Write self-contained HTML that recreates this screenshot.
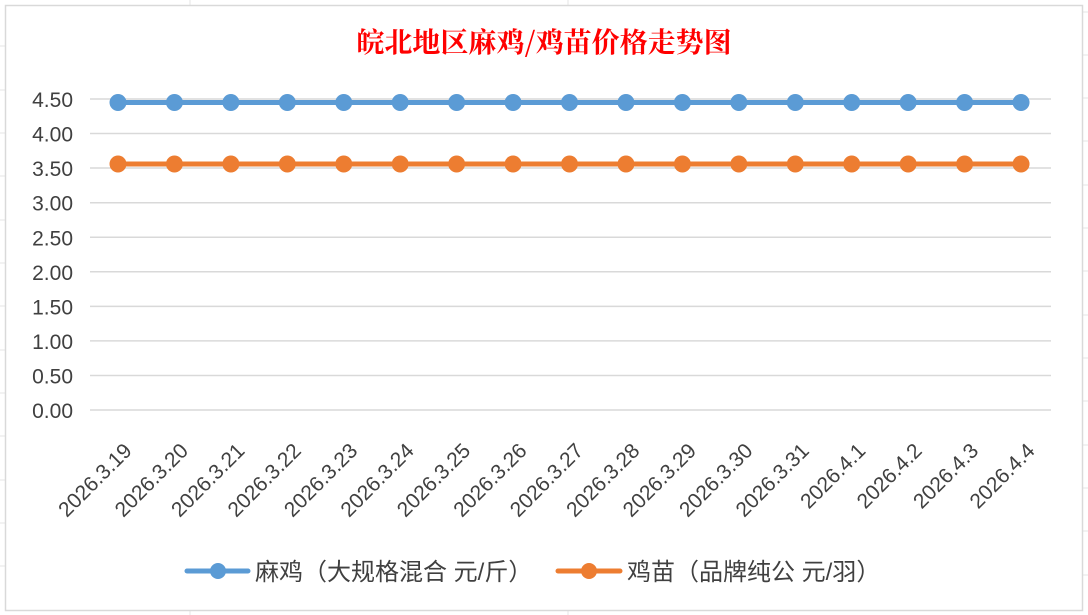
<!DOCTYPE html>
<html><head><meta charset="utf-8"><style>
html,body{margin:0;padding:0;background:#fff;}
svg{display:block;font-family:"Liberation Sans","Noto Sans CJK SC",sans-serif;}
</style></head><body>
<svg width="1088" height="615" viewBox="0 0 1088 615" xmlns="http://www.w3.org/2000/svg">
<rect x="0" y="0" width="1088" height="615" fill="#fff"/>
<g stroke="#e6e6e6" stroke-width="1">
<line x1="0" y1="46" x2="5" y2="46"/><line x1="0" y1="90" x2="5" y2="90"/><line x1="0" y1="133" x2="5" y2="133"/><line x1="0" y1="176" x2="5" y2="176"/><line x1="0" y1="220" x2="5" y2="220"/><line x1="0" y1="263" x2="5" y2="263"/><line x1="0" y1="306" x2="5" y2="306"/><line x1="0" y1="350" x2="5" y2="350"/><line x1="0" y1="393" x2="5" y2="393"/><line x1="0" y1="436" x2="5" y2="436"/><line x1="0" y1="480" x2="5" y2="480"/><line x1="0" y1="523" x2="5" y2="523"/><line x1="0" y1="566" x2="5" y2="566"/>
<line x1="1083" y1="12" x2="1088" y2="12"/><line x1="1083" y1="55" x2="1088" y2="55"/><line x1="1083" y1="98" x2="1088" y2="98"/><line x1="1083" y1="141" x2="1088" y2="141"/><line x1="1083" y1="185" x2="1088" y2="185"/><line x1="1083" y1="228" x2="1088" y2="228"/><line x1="1083" y1="271" x2="1088" y2="271"/><line x1="1083" y1="315" x2="1088" y2="315"/><line x1="1083" y1="358" x2="1088" y2="358"/><line x1="1083" y1="401" x2="1088" y2="401"/><line x1="1083" y1="445" x2="1088" y2="445"/><line x1="1083" y1="488" x2="1088" y2="488"/><line x1="1083" y1="531" x2="1088" y2="531"/><line x1="1083" y1="575" x2="1088" y2="575"/>
<line x1="190" y1="0" x2="190" y2="5"/><line x1="568" y1="0" x2="568" y2="5"/><line x1="190" y1="611" x2="190" y2="615"/><line x1="568" y1="611" x2="568" y2="615"/>
</g>
<rect x="5.5" y="5.5" width="1077" height="605" fill="#fff" stroke="#d9d9d9" stroke-width="1.5"/>
<text x="544" y="52" text-anchor="middle" fill="#ff0000" font-size="28" font-family="'Noto Serif CJK SC','Noto Sans CJK SC',serif" font-weight="bold">皖北地区麻鸡/鸡苗价格走势图</text>
<g stroke="#d9d9d9" stroke-width="1.5">
<line x1="90" y1="99" x2="1051" y2="99"/><line x1="90" y1="133.5" x2="1051" y2="133.5"/><line x1="90" y1="168" x2="1051" y2="168"/><line x1="90" y1="202.7" x2="1051" y2="202.7"/><line x1="90" y1="237.3" x2="1051" y2="237.3"/><line x1="90" y1="271.8" x2="1051" y2="271.8"/><line x1="90" y1="306.4" x2="1051" y2="306.4"/><line x1="90" y1="340.9" x2="1051" y2="340.9"/><line x1="90" y1="375.5" x2="1051" y2="375.5"/><line x1="90" y1="410" x2="1051" y2="410"/>
</g>
<g fill="#404040" font-size="21" text-anchor="end">
<text x="73" y="107">4.50</text><text x="73" y="141.5">4.00</text><text x="73" y="176">3.50</text><text x="73" y="210.7">3.00</text><text x="73" y="245.3">2.50</text><text x="73" y="279.8">2.00</text><text x="73" y="314.4">1.50</text><text x="73" y="348.9">1.00</text><text x="73" y="383.5">0.50</text><text x="73" y="418">0.00</text>
</g>
<line x1="118" y1="102.5" x2="1021" y2="102.5" stroke="#5b9bd5" stroke-width="5"/>
<line x1="118" y1="164" x2="1021" y2="164" stroke="#ed7d31" stroke-width="5"/>
<g id="pts"></g>
<g fill="#404040" font-size="21" id="xl"></g>
<line x1="187" y1="571" x2="248" y2="571" stroke="#5b9bd5" stroke-width="5" stroke-linecap="round"/>
<circle cx="218" cy="571" r="8" fill="#5b9bd5"/>
<text x="255" y="580" fill="#404040" font-size="24">麻鸡（大规格混合 元/斤）</text>
<line x1="558" y1="571" x2="620" y2="571" stroke="#ed7d31" stroke-width="5" stroke-linecap="round"/>
<circle cx="589" cy="571" r="8" fill="#ed7d31"/>
<text x="627" y="580" fill="#404040" font-size="24">鸡苗（品牌纯公 元/羽）</text>
<script>
var labels=["2026.3.19","2026.3.20","2026.3.21","2026.3.22","2026.3.23","2026.3.24","2026.3.25","2026.3.26","2026.3.27","2026.3.28","2026.3.29","2026.3.30","2026.3.31","2026.4.1","2026.4.2","2026.4.3","2026.4.4"];
var ns="http://www.w3.org/2000/svg",p=document.getElementById("pts"),xl=document.getElementById("xl");
for(var i=0;i<17;i++){var x=118+i*56.44;
[[102.5,"#5b9bd5"],[164,"#ed7d31"]].forEach(function(a){var c=document.createElementNS(ns,"circle");c.setAttribute("cx",x);c.setAttribute("cy",a[0]);c.setAttribute("r",8.5);c.setAttribute("fill",a[1]);p.appendChild(c);});
var t=document.createElementNS(ns,"text");var tx=x+15,ty=452;t.setAttribute("x",tx);t.setAttribute("y",ty);t.setAttribute("text-anchor","end");t.setAttribute("transform","rotate(-45 "+tx+" "+ty+")");t.textContent=labels[i];xl.appendChild(t);}
</script>
</svg>
</body></html>
